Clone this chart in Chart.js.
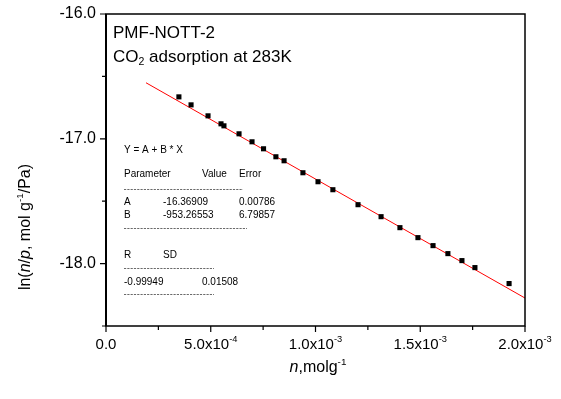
<!DOCTYPE html>
<html>
<head>
<meta charset="utf-8">
<script src="https://cdn.jsdelivr.net/npm/chart.js@4.4.0/dist/chart.umd.min.js"></script>
<style>
  html, body { margin: 0; padding: 0; background: #fff; }
  #wrap { width: 561px; height: 399px; }
</style>
</head>
<body>
<div id="wrap"><canvas id="isoChart" width="561" height="399"></canvas></div>
<script>
// measured points, n (mol/g) vs ln(n/p)
const nValues = [3.48e-4, 4.06e-4, 4.87e-4, 5.49e-4, 5.63e-4, 6.35e-4, 6.97e-4, 7.52e-4,
  8.11e-4, 8.50e-4, 9.40e-4, 1.012e-3, 1.083e-3, 1.203e-3, 1.313e-3, 1.403e-3,
  1.489e-3, 1.561e-3, 1.632e-3, 1.699e-3, 1.761e-3, 1.924e-3];
const lnValues = [-16.664, -16.728, -16.816, -16.880, -16.896, -16.960, -17.024, -17.080,
  -17.144, -17.176, -17.272, -17.344, -17.408, -17.528, -17.624, -17.712,
  -17.792, -17.856, -17.920, -17.976, -18.032, -18.160];

// linear fit line, end points
const fitX = [1.91e-4, 2.0e-3];
const fitY = [-16.551, -18.276];

// axis ticks
const xMajorTicks = [0, 5e-4, 1e-3, 1.5e-3, 2e-3];
const xTickBase = ['0.0', '5.0x10', '1.0x10', '1.5x10', '2.0x10'];
const xTickExp = ['', '-4', '-3', '-3', '-3'];
const xMinorTicks = [2.5e-4, 7.5e-4, 1.25e-3, 1.75e-3];
const yMajorTicks = [-16, -17, -18];
const yTickLabels = ['-16.0', '-17.0', '-18.0'];
const yMinorTicks = [-16.5, -17.5, -18.5];

// fit report
const fitParams = [
  ['A', '-16.36909', '0.00786'],
  ['B', '-953.26553', '6.79857']
];
const fitStats = ['-0.99949', '0.01508'];

const FONT = '"Liberation Sans", Arial, sans-serif';

function richText(ctx, parts, x, y, size, align) {
  // parts: {t, it, sup, sub}
  let w = 0;
  const measured = parts.map(p => {
    const s = (p.sup || p.sub) ? size * 0.62 : size;
    ctx.font = (p.it ? 'italic ' : '') + s + 'px ' + FONT;
    const pw = ctx.measureText(p.t).width;
    w += pw;
    return { p, s, pw };
  });
  let cx = x;
  if (align === 'center') cx = x - w / 2;
  if (align === 'right') cx = x - w;
  ctx.textAlign = 'left';
  ctx.textBaseline = 'middle';
  measured.forEach(m => {
    ctx.font = (m.p.it ? 'italic ' : '') + m.s + 'px ' + FONT;
    let dy = 0;
    if (m.p.sup) dy = -size * 0.38;
    if (m.p.sub) dy = size * 0.32;
    ctx.fillText(m.p.t, cx, y + dy);
    cx += m.pw;
  });
}

function dashLine(ctx, x1, x2, y) {
  ctx.save();
  ctx.strokeStyle = '#444';
  ctx.lineWidth = 0.8;
  ctx.setLineDash([2.2, 1.1]);
  ctx.beginPath();
  ctx.moveTo(x1, y + 0.5);
  ctx.lineTo(x2, y + 0.5);
  ctx.stroke();
  ctx.restore();
}

const framePlugin = {
  id: 'frame',
  afterDraw(chart) {
    const ctx = chart.ctx;
    const a = chart.chartArea;
    const xs = chart.scales.x, ys = chart.scales.y;
    ctx.save();
    ctx.fillStyle = '#000';
    ctx.strokeStyle = '#000';

    // box
    ctx.lineWidth = 1.5;
    ctx.strokeRect(a.left, a.top, a.right - a.left, a.bottom - a.top);
    ctx.lineWidth = 2;
    ctx.beginPath();
    ctx.moveTo(a.left, a.top); ctx.lineTo(a.left, a.bottom);
    ctx.stroke();

    // ticks
    ctx.lineWidth = 1.2;
    ctx.beginPath();
    yMajorTicks.forEach(v => { const py = ys.getPixelForValue(v); ctx.moveTo(a.left - 6, py); ctx.lineTo(a.left, py); });
    yMinorTicks.forEach(v => { const py = ys.getPixelForValue(v); ctx.moveTo(a.left - 4, py); ctx.lineTo(a.left, py); });
    xMajorTicks.forEach(v => { const px = xs.getPixelForValue(v); ctx.moveTo(px, a.bottom); ctx.lineTo(px, a.bottom + 6); });
    xMinorTicks.forEach(v => { const px = xs.getPixelForValue(v); ctx.moveTo(px, a.bottom); ctx.lineTo(px, a.bottom + 4); });
    ctx.stroke();

    // tick labels
    yMajorTicks.forEach((v, i) => {
      richText(ctx, [{ t: yTickLabels[i] }], a.left - 10, ys.getPixelForValue(v), 16, 'right');
    });
    xMajorTicks.forEach((v, i) => {
      const parts = [{ t: xTickBase[i] }];
      if (xTickExp[i]) parts.push({ t: xTickExp[i], sup: true });
      richText(ctx, parts, xs.getPixelForValue(v), a.bottom + 19, 15, 'center');
    });

    // axis titles
    richText(ctx, [{ t: 'n', it: true }, { t: ',molg' }, { t: '-1', sup: true }], 318, 368, 16, 'center');
    ctx.save();
    ctx.translate(26, 227);
    ctx.rotate(-Math.PI / 2);
    richText(ctx, [{ t: 'ln(' }, { t: 'n', it: true }, { t: '/' }, { t: 'p', it: true },
      { t: ', mol g' }, { t: '-1', sup: true }, { t: '/Pa)' }], 0, 0, 16, 'center');
    ctx.restore();

    // title text
    richText(ctx, [{ t: 'PMF-NOTT-2' }], 113, 33, 17, 'left');
    richText(ctx, [{ t: 'CO' }, { t: '2', sub: true }, { t: ' adsorption at 283K' }], 113, 57, 17, 'left');

    // fit report
    const fs = 10, lx = 124;
    richText(ctx, [{ t: 'Y = A + B * X' }], lx, 150, fs, 'left');
    richText(ctx, [{ t: 'Parameter' }], lx, 174, fs, 'left');
    richText(ctx, [{ t: 'Value' }], 202, 174, fs, 'left');
    richText(ctx, [{ t: 'Error' }], 239, 174, fs, 'left');
    dashLine(ctx, lx, 243, 189);
    fitParams.forEach((row, i) => {
      const ry = 202 + i * 13;
      richText(ctx, [{ t: row[0] }], lx, ry, fs, 'left');
      richText(ctx, [{ t: row[1] }], 163, ry, fs, 'left');
      richText(ctx, [{ t: row[2] }], 239, ry, fs, 'left');
    });
    dashLine(ctx, lx, 247, 228);
    richText(ctx, [{ t: 'R' }], lx, 255, fs, 'left');
    richText(ctx, [{ t: 'SD' }], 163, 255, fs, 'left');
    dashLine(ctx, lx, 214, 268);
    richText(ctx, [{ t: fitStats[0] }], lx, 282, fs, 'left');
    richText(ctx, [{ t: fitStats[1] }], 202, 282, fs, 'left');
    dashLine(ctx, lx, 214, 294);

    ctx.restore();
  }
};

const config = {
  type: 'scatter',
  data: {
    datasets: [{
      label: 'data',
      data: nValues.map((n, i) => ({ x: n, y: lnValues[i] })),
      pointStyle: 'rect',
      pointRadius: 3.6,
      pointHoverRadius: 3.6,
      backgroundColor: '#000',
      borderColor: '#000',
      borderWidth: 0,
      order: 1
    }, {
      label: 'fit',
      type: 'line',
      data: fitX.map((x, i) => ({ x: x, y: fitY[i] })),
      borderColor: '#ff0000',
      borderWidth: 1,
      pointRadius: 0,
      fill: false,
      order: 2
    }]
  },
  options: {
    responsive: false,
    animation: false,
    devicePixelRatio: 1,
    layout: { padding: { top: 14, right: 36, left: 0, bottom: 0 } },
    plugins: { legend: { display: false }, tooltip: { enabled: false } },
    scales: {
      x: {
        type: 'linear', min: 0, max: 0.002,
        grid: { display: false }, border: { display: false },
        ticks: { display: false },
        afterFit: s => { s.height = 73; }
      },
      y: {
        type: 'linear', min: -18.5, max: -16,
        grid: { display: false }, border: { display: false },
        ticks: { display: false },
        afterFit: s => { s.width = 106; }
      }
    }
  },
  plugins: [framePlugin]
};

var isoChart = new Chart(document.getElementById('isoChart'), config);
</script>
</body>
</html>
